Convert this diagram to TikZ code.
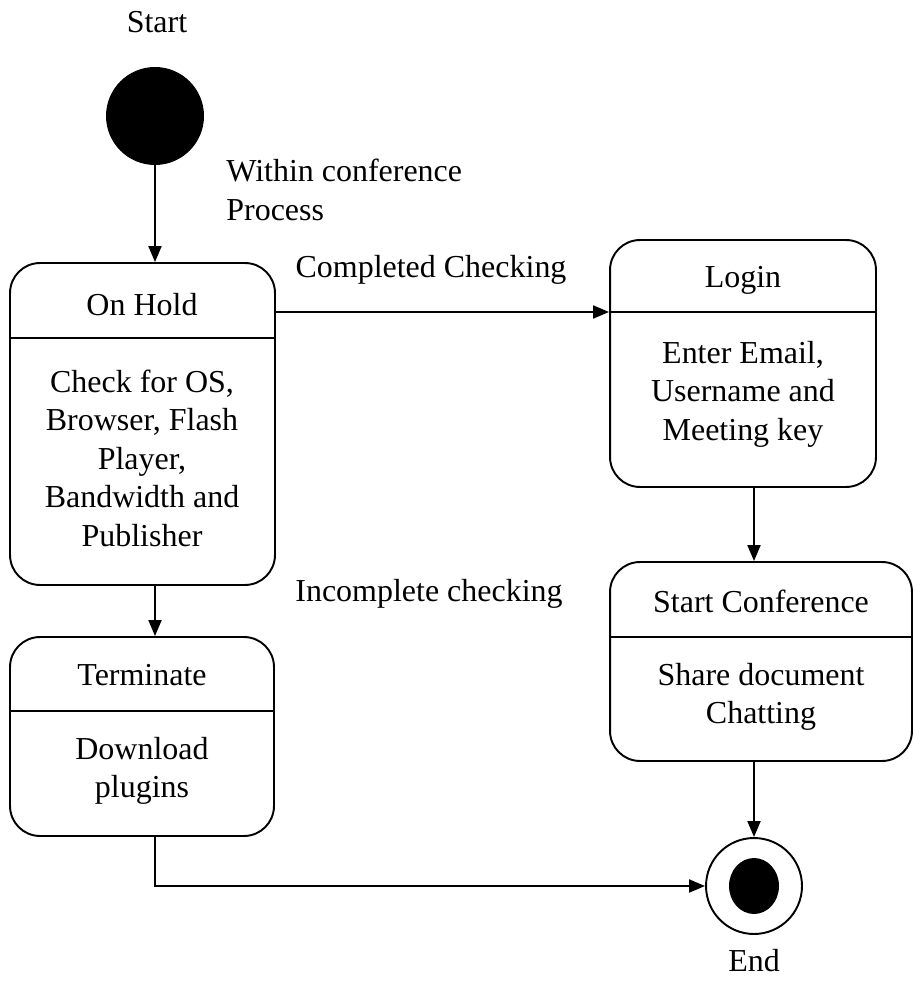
\documentclass[tikz,border=0pt]{standalone}
\usepackage{fontspec}
\setmainfont{Liberation Serif}
\usetikzlibrary{arrows.meta}

\tikzset{
  state/.style={draw, line width=1.1pt, rounded corners=0.6cm, inner sep=0pt},
  lbl/.style={font=\fontsize{18.2}{21.9}\selectfont, align=center, inner sep=0pt},
  arr/.style={line width=1.1pt, -{Triangle[length=3.2mm, width=2.6mm]}}
}

\begin{document}
\begin{tikzpicture}[x=0.02cm, y=-0.02cm]
\useasboundingbox (0,0) rectangle (915,982);

% start and end
\node[circle, fill=black, minimum size=1.96cm, inner sep=0pt] (start) at (155,116) {};
\node[circle, draw, line width=1.1pt, minimum size=1.92cm, inner sep=0pt] (end) at (754,886) {};
\fill (end.center) ellipse [x radius=0.5cm, y radius=0.56cm];

% states
\node[state, minimum width=5.3cm, minimum height=6.44cm] (hold) at (142.5,424) {};
\node[state, minimum width=5.28cm, minimum height=3.98cm] (term) at (142,736.5) {};
\node[state, minimum width=5.32cm, minimum height=4.94cm] (login) at (743,363.5) {};
\node[state, minimum width=6.04cm, minimum height=3.98cm] (conf) at (761,661.5) {};

\coordinate (holddiv) at (142,338);
\coordinate (termdiv) at (142,711);
\coordinate (logindiv) at (743,312);
\coordinate (confdiv) at (761,637);
\draw[line width=1.1pt] (hold.west |- holddiv) -- (hold.east |- holddiv);
\draw[line width=1.1pt] (term.west |- termdiv) -- (term.east |- termdiv);
\draw[line width=1.1pt] (login.west |- logindiv) -- (login.east |- logindiv);
\draw[line width=1.1pt] (conf.west |- confdiv) -- (conf.east |- confdiv);

\node[lbl] (holdtitle) at (142,305) {On Hold};
\node[lbl] (holdbody) at (142,458) {Check for OS,\\Browser, Flash\\Player,\\Bandwidth and\\Publisher};
\node[lbl] (termtitle) at (142,675) {Terminate};
\node[lbl] (termbody) at (142,771) {Download\\plugins};
\node[lbl] (logintitle) at (743,280) {Login};
\node[lbl] (loginbody) at (743,394) {Enter Email,\\Username and\\Meeting key};
\node[lbl] (conftitle) at (761,601) {Start Conference};
\node[lbl] (confbody) at (761,697) {Share document\\Chatting};

% labels
\node[lbl] (startlbl) at (157,22) {Start};
\node[lbl, anchor=west, align=left] (within) at (226,190) {Within conference\\Process};
\node[lbl] (done) at (431,270) {Completed Checking};
\node[lbl] (undone) at (429,594) {Incomplete checking};
\node[lbl] (endlbl) at (754,961) {End};

% transitions
\draw[arr] (start) -- (start |- hold.north);
\draw[arr] (hold.south -| start) -- (term.north -| start);
\draw[arr] (hold.east |- logindiv) -- (login.west |- logindiv);
\draw[arr] (login.south -| end) -- (conf.north -| end);
\draw[arr] (conf.south -| end) -- (end);
\draw[arr] (term.south -| start) |- (end);
\end{tikzpicture}
\end{document}
